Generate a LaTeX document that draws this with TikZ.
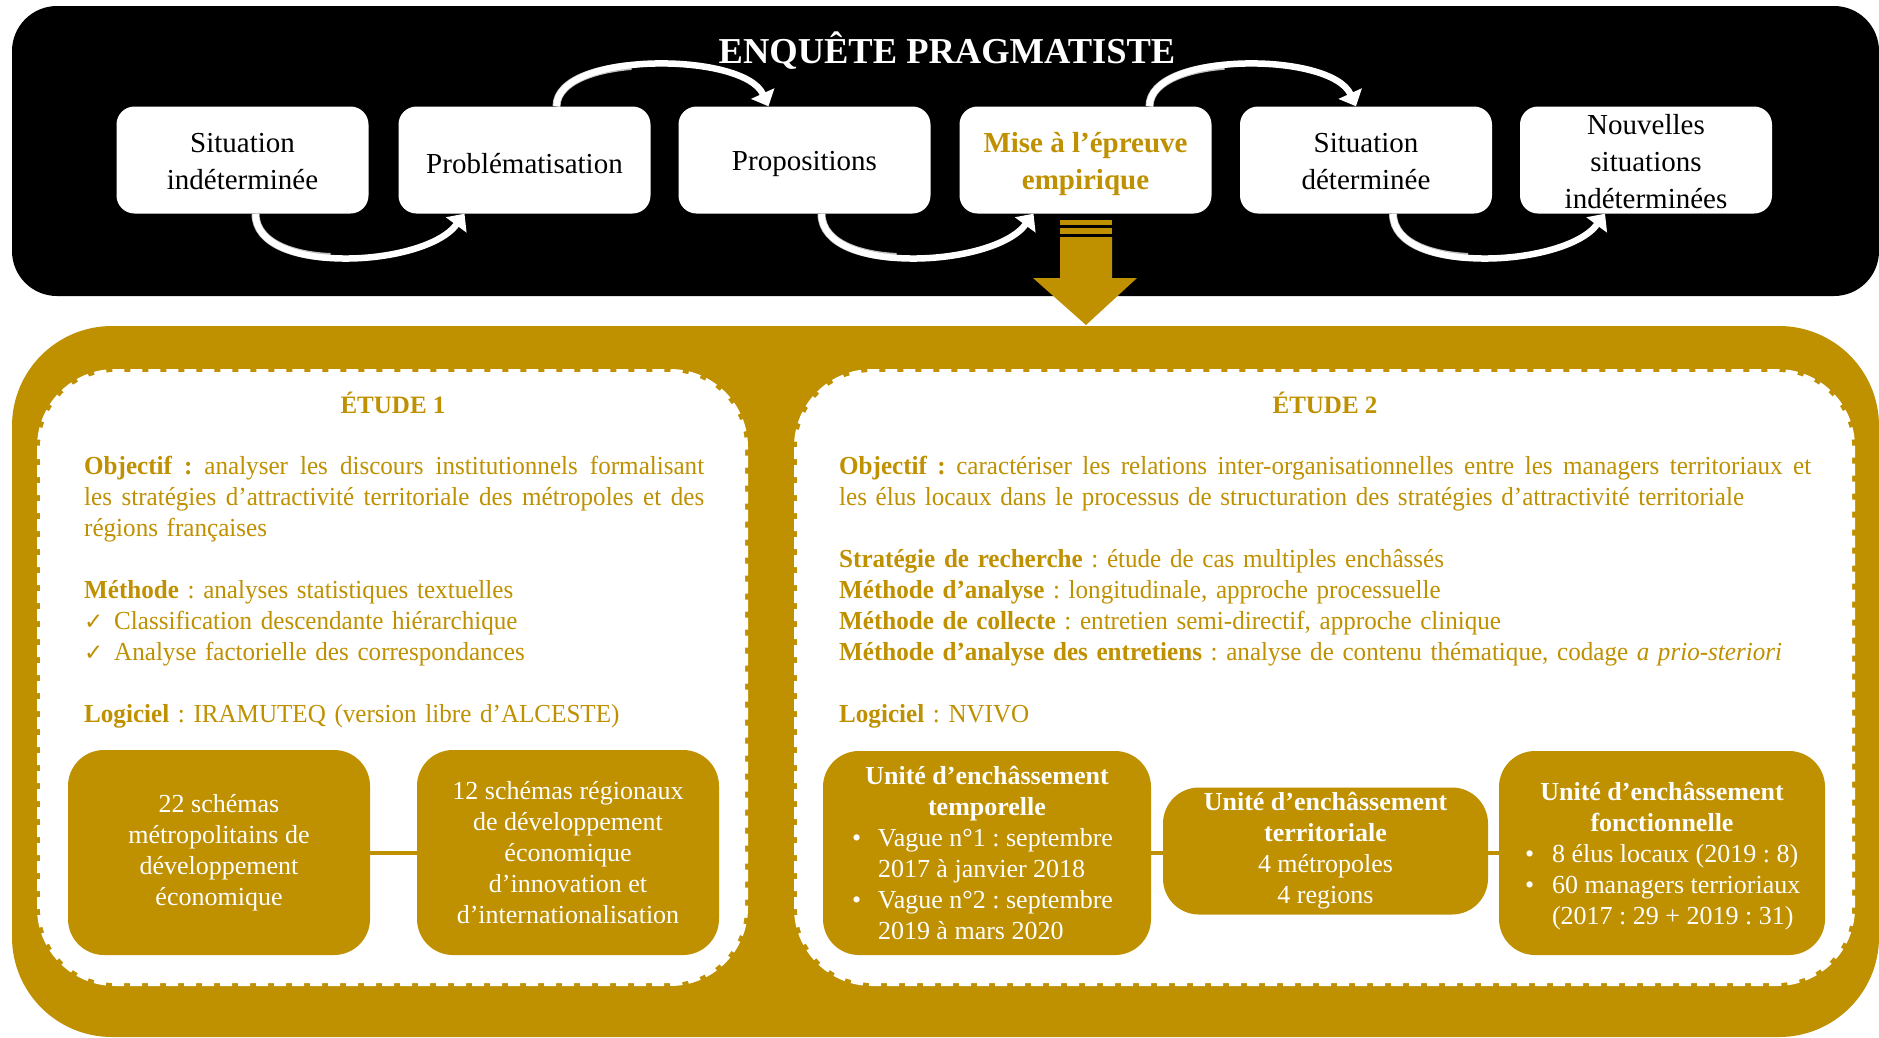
\documentclass[tikz,border=0pt]{standalone}
\usepackage{fontspec}
\setmainfont{Liberation Serif}
\newfontfamily\bodyf{Liberation Serif}[FakeStretch=0.965]
\newfontfamily\symf{DejaVu Sans}
\usetikzlibrary{arrows.meta,calc}
\definecolor{gold}{HTML}{BF9000}
\definecolor{shadegray}{HTML}{BDBDBD}
\frenchspacing
\newcommand{\justline}[2]{\leavevmode\hbox to #1{\spaceskip=6.3pt plus 12pt minus 2pt\relax #2}}
\begin{document}
\begin{tikzpicture}[x=1pt,y=-1pt,
  wbox/.style={rectangle,rounded corners=18pt,fill=white,minimum width=252pt,minimum height=107pt,inner sep=0pt},
  wtxt/.style={inner sep=0pt,align=center,font=\fontsize{29}{37}\selectfont},
  gbox/.style={rectangle,rounded corners=36pt,fill=gold,text=white,inner sep=0pt,align=center,font=\fontsize{26}{31}\selectfont},
  body/.style={anchor=north west,inner sep=0pt,align=left,text=gold,font=\bodyf\fontsize{26}{31}\selectfont},
  ttl/.style={anchor=base,inner sep=0pt,text=gold,font=\bfseries\fontsize{25}{30}\selectfont},
  curv/.style={line width=6.5pt,white,-{Triangle[width=25pt,length=14pt]}},
  curvshade/.style={line width=8pt,shadegray,xshift=-6pt},
  dashbox/.style={fill=white,draw=white,line width=6pt,dash pattern=on 12pt off 6pt,rounded corners=75pt},
  link/.style={gold,line width=4pt},
]
\useasboundingbox (0,0) rectangle (1879,1037);
\fill[white] (0,0) rectangle (1879,1037);

% black frame
\fill[black,rounded corners=45pt] (12,6) rectangle (1879,296);
% gold frame
\fill[gold,rounded corners=100pt] (12,326) rectangle (1879,1037);

\node[text=white,font=\bfseries\fontsize{36.5}{40}\selectfont,anchor=base,inner sep=0pt] (title) at (947,63) {ENQUÊTE PRAGMATISTE};

% top row
\node[wbox] (b1) at (242.5,160) {};
\node[wbox] (b2) at (524.5,160) {};
\node[wbox] (b3) at (804.5,160) {};
\node[wbox] (b4) at (1085.5,160) {};
\node[wbox] (b5) at (1366,160) {};
\node[wbox] (b6) at (1646,160) {};
\node[wtxt] (l1) at ($(b1.center)+(0,2)$) {Situation\\indéterminée};
\node[wtxt] (l2) at ($(b2.center)+(0,4)$) {Problématisation};
\node[wtxt] (l3) at ($(b3.center)+(0,4)$) {Propositions};
\node[wtxt,text=gold,font=\bfseries\fontsize{29}{37}\selectfont] (l4) at ($(b4.center)+(0,4)$) {Mise à l’épreuve\\empirique};
\node[wtxt] (l5) at ($(b5.center)+(0,2)$) {Situation\\déterminée};
\node[wtxt] (l6) at ($(b6.center)+(0,2)$) {Nouvelles\\situations\\indéterminées};

% curved arrows
\coordinate (s12) at ($(b1.south)+(13,0)$);
\coordinate (t12) at ($(b2.south)+(-60,0)$);
\coordinate (s23) at ($(b2.north)+(32,0)$);
\coordinate (t23) at ($(b3.north)+(-36,0)$);
\coordinate (s34) at ($(b3.south)+(17,0)$);
\coordinate (t34) at ($(b4.south)+(-52,0)$);
\coordinate (s45) at ($(b4.north)+(64,0)$);
\coordinate (t45) at ($(b5.north)+(-10,0)$);
\coordinate (s56) at ($(b5.south)+(27,0)$);
\coordinate (t56) at ($(b6.south)+(-41,0)$);

\foreach \s/\t in {s12/t12,s34/t34,s56/t56}{
  \begin{scope}
    \clip ($(\s)+(-20,0)$) rectangle ($(\s)+(75,70)$);
    \draw[curvshade] (\s) .. controls +(0,62) and +(-40,54) .. (\t);
  \end{scope}
  \draw[curv] (\s) .. controls +(0,62) and +(-40,54) .. (\t);
}
\foreach \s/\t in {s23/t23,s45/t45}{
  \begin{scope}
    \clip ($(\s)+(-20,0)$) rectangle ($(\s)+(75,-70)$);
    \draw[curvshade] (\s) .. controls +(0,-55) and +(-25,-55) .. (\t);
  \end{scope}
  \draw[curv] (\s) .. controls +(0,-55) and +(-25,-55) .. (\t);
}

% gold block arrow
\fill[gold] (1060,220) rectangle (1112,225);
\fill[gold] (1060,228) rectangle (1112,234);
\fill[gold] (1060,237) -- (1112,237) -- (1112,278) -- (1137,278) -- (1086,325) -- (1033,278) -- (1060,278) -- cycle;

% study panels
\path[dashbox] (40,372) rectangle (745,983);
\path[dashbox] (797,372) rectangle (1852,983);

\node[ttl] (e1) at (393,413) {ÉTUDE 1};
\node[ttl] (e2) at (1325,413) {ÉTUDE 2};

\node[body,text width=620pt] (t1) at (84,453) {\strut\justline{620pt}{\textbf{Objectif :} analyser les discours institutionnels formalisant}\\
\justline{620pt}{les stratégies d’attractivité territoriale des métropoles et des}\\
régions françaises\\[31pt]
\textbf{Méthode} : analyses statistiques textuelles\\
\makebox[30pt][l]{\fontsize{23}{23}\symf ✓}Classification descendante hiérarchique\\
\makebox[30pt][l]{\fontsize{23}{23}\symf ✓}Analyse factorielle des correspondances\\[31pt]
\textbf{Logiciel} : IRAMUTEQ (version libre d’ALCESTE)};

\node[body,text width=972pt] (t2) at (839,453) {\strut\justline{972pt}{\textbf{Objectif :} caractériser les relations inter-organisationnelles entre les managers territoriaux et}\\
les élus locaux dans le processus de structuration des stratégies d’attractivité territoriale\\[31pt]
\textbf{Stratégie de recherche} : étude de cas multiples enchâssés\\
\textbf{Méthode d’analyse} : longitudinale, approche processuelle\\
\textbf{Méthode de collecte} : entretien semi-directif, approche clinique\\
\mbox{\textbf{Méthode d’analyse des entretiens} : analyse de contenu thématique, codage \textit{a prio-steriori}}\\[31pt]
\textbf{Logiciel} : NVIVO};

% gold boxes study 1
\node[gbox,minimum width=302pt,minimum height=205pt] (gA) at (219,852.5) {22 schémas\\métropolitains de\\développement\\économique};
\node[gbox,minimum width=302pt,minimum height=205pt] (gB) at (568,852.5) {12 schémas régionaux\\de développement\\économique\\d’innovation et\\d’internationalisation};
\draw[link] (gA) -- (gB);

% gold boxes study 2
\node[gbox,minimum width=328pt,minimum height=204pt] (gC) at (987,853) {\textbf{Unité d’enchâssement}\\\textbf{temporelle}\\
\makebox[270pt][l]{\makebox[26pt][l]{•}Vague n°1 : septembre}\\
\makebox[270pt][l]{\hspace*{26pt}2017 à janvier 2018}\\
\makebox[270pt][l]{\makebox[26pt][l]{•}Vague n°2 : septembre}\\
\makebox[270pt][l]{\hspace*{26pt}2019 à mars 2020}};
\node[gbox,minimum width=325pt,minimum height=127pt] (gD) at (1325.5,851) {\textbf{Unité d’enchâssement}\\\textbf{territoriale}\\4 métropoles\\4 regions};
\node[gbox,minimum width=326pt,minimum height=204pt] (gE) at (1662,853) {\rule{0pt}{24pt}\textbf{Unité d’enchâssement}\\\textbf{fonctionnelle}\\
\makebox[274pt][l]{\makebox[27pt][l]{•}8 élus locaux (2019 : 8)}\\
\makebox[274pt][l]{\makebox[27pt][l]{•}60 managers terrioriaux}\\
\makebox[274pt][l]{\hspace*{27pt}(2017 : 29 + 2019 : 31)}};
\draw[link] (gC.east) -- (gC.east -| gD.west);
\draw[link] (gD.east |- gE.west) -- (gE.west);
\end{tikzpicture}
\end{document}
